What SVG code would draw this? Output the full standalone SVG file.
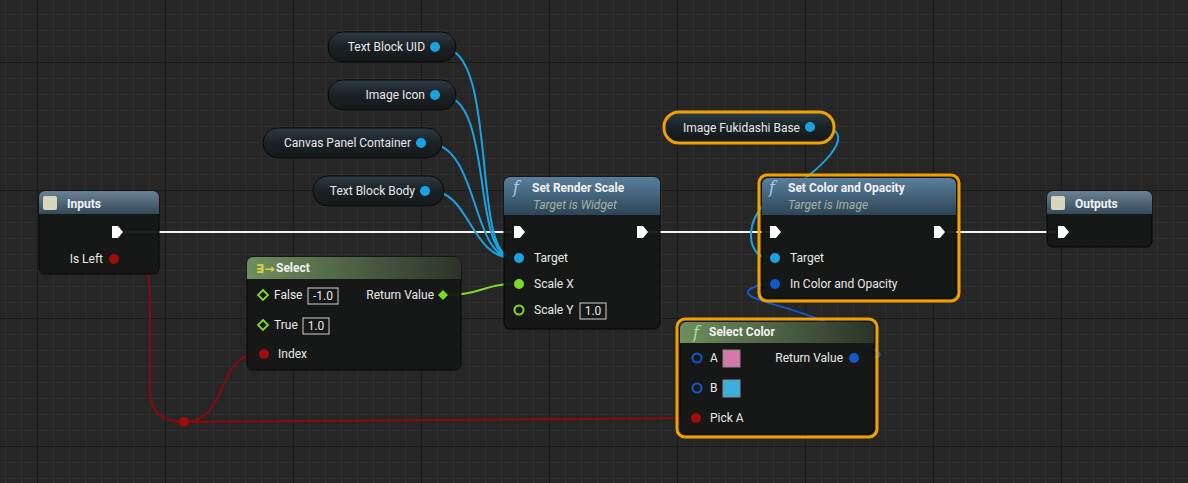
<svg xmlns="http://www.w3.org/2000/svg" width="1188" height="483" viewBox="0 0 1188 483">
<defs>
<pattern id="minor" x="37" y="190" width="16" height="16" patternUnits="userSpaceOnUse"><path d="M0 0H16M0 0V16" stroke="#353535" stroke-width="1" fill="none"/></pattern>
<pattern id="major" x="37" y="190" width="128" height="128" patternUnits="userSpaceOnUse"><path d="M0 0H128M0 0V128" stroke="#141414" stroke-width="1.5" fill="none"/></pattern>
<linearGradient id="hBlue" x1="0" y1="0" x2="0" y2="1"><stop offset="0" stop-color="#5a7f9c"/><stop offset="1" stop-color="#2c4558"/></linearGradient>
<linearGradient id="hGreen" x1="0" y1="0" x2="1" y2="0"><stop offset="0" stop-color="#6f8f5f"/><stop offset="1" stop-color="#2a3328"/></linearGradient>
<linearGradient id="hGray" x1="0" y1="0" x2="0" y2="1"><stop offset="0" stop-color="#6a8294"/><stop offset="1" stop-color="#34495a"/></linearGradient>
<linearGradient id="pill" x1="0" y1="0" x2="0" y2="1"><stop offset="0" stop-color="#2c3b44"/><stop offset="0.5" stop-color="#1a2126"/><stop offset="1" stop-color="#141818"/></linearGradient>
</defs>
<style>
.body{fill:#151716;fill-opacity:0.95;stroke:#060606;stroke-width:1}
.sel{fill:none;stroke:#f0a000;stroke-width:3}
.t{font-family:Roboto,"Liberation Sans",sans-serif;font-size:12px;fill:#e8e8e8}
.h{font-family:Roboto,"Liberation Sans",sans-serif;font-size:12px;font-weight:bold;fill:#f2f2f2}
.sub{font-family:Roboto,"Liberation Sans",sans-serif;font-size:12px;font-style:italic;fill:#a8b0a0}
.f{font-family:"DejaVu Serif",serif;font-style:italic;font-size:16px;fill:#9fd0f0}
.box{fill:none;stroke:#cfcfcf;stroke-width:1}
.exec{fill:#fff}
.wire{fill:none;stroke-width:2}
</style>
<rect width="1188" height="483" fill="#262626"/>
<rect width="1188" height="483" fill="url(#minor)"/>
<rect width="1188" height="483" fill="url(#major)"/>

<g id="connectors">
<path class="wire" stroke="#f4f4f4" stroke-width="3" d="M124 232H512M649 232H769M947 232H1056"/>
<path class="wire" stroke="#1aa3e0" d="M441 47C500 47 470 258 513 258M441 95C495 95 470 258 513 258M427 143C480 143 470 258 513 258M431 191C470 191 470 258 513 258"/>
<path class="wire" stroke="#1aa3e0" d="M817 127C870 127 810 180 785 190C740 210 745 258 769 258"/>
<path class="wire" stroke="#1258c8" d="M861 358C905 358 860 345 840 330C800 305 730 300 752 288C758 285 762 284 769 284"/>
<path class="wire" stroke="#7fd82a" d="M449 295C480 295 485 284 513 284"/>
<path class="wire" stroke="#8a0a0a" d="M120 259C148 259 150 275 150 300L150 390C150 415 165 422 184 422M184 422C230 422 215 354 258 354M184 422L690 418"/>
<circle cx="184" cy="422" r="5" fill="#a00c0c"/>
</g>

<g id="inputs">
<rect x="39" y="191" width="120" height="83" rx="6" class="body"/>
<path d="M45 191H153a6 6 0 0 1 6 6V214H39V197a6 6 0 0 1 6-6z" fill="url(#hGray)"/>
<rect x="43" y="196" width="14" height="14" rx="2" fill="#d8d4c0"/>
<text x="67" y="208" class="h">Inputs</text>
<path d="M112 226h6l5 6-5 6h-6z" class="exec"/>
<text x="103" y="263" class="t" text-anchor="end">Is Left</text>
<circle cx="114" cy="259" r="5" fill="#a00c0c"/>
</g>

<g id="text-block-uid"><rect x="328" y="32" width="128" height="30" rx="15" fill="url(#pill)" stroke="#0a0a0a"/><text x="425" y="51" class="t" text-anchor="end">Text Block UID</text><circle cx="435" cy="47" r="5" fill="#1aa3e0"/></g>
<g id="image-icon"><rect x="328" y="80" width="128" height="30" rx="15" fill="url(#pill)" stroke="#0a0a0a"/><text x="425" y="99" class="t" text-anchor="end">Image Icon</text><circle cx="435" cy="95" r="5" fill="#1aa3e0"/></g>
<g id="canvas-panel-container"><rect x="263" y="128" width="179" height="30" rx="15" fill="url(#pill)" stroke="#0a0a0a"/><text x="411" y="147" class="t" text-anchor="end">Canvas Panel Container</text><circle cx="421" cy="143" r="5" fill="#1aa3e0"/></g>
<g id="text-block-body"><rect x="313" y="176" width="131" height="30" rx="15" fill="url(#pill)" stroke="#0a0a0a"/><text x="415" y="195" class="t" text-anchor="end">Text Block Body</text><circle cx="425" cy="191" r="5" fill="#1aa3e0"/></g>
<g id="image-fukidashi-base"><rect x="664" y="112" width="170" height="31" rx="15" fill="url(#pill)" stroke="#f0a000" stroke-width="3"/><text x="800" y="132" class="t" text-anchor="end">Image Fukidashi Base</text><circle cx="810" cy="127" r="5" fill="#1aa3e0"/></g>

<g id="set-render-scale">
<rect x="504" y="177" width="156" height="152" rx="6" class="body"/>
<path d="M510 177H654a6 6 0 0 1 6 6V215H504V183a6 6 0 0 1 6-6z" fill="url(#hBlue)"/>
<text x="513" y="193" class="f">f</text>
<text x="532" y="192" class="h">Set Render Scale</text>
<text x="533" y="209" class="sub">Target is Widget</text>
<path d="M514 226h6l5 6-5 6h-6z" class="exec"/>
<path d="M637 226h6l5 6-5 6h-6z" class="exec"/>
<circle cx="519" cy="258" r="5" fill="#1aa3e0"/><text x="534" y="262" class="t">Target</text>
<circle cx="519" cy="284" r="5" fill="#7fd82a"/><text x="534" y="288" class="t">Scale X</text>
<circle cx="519" cy="310" r="4.5" fill="none" stroke="#7fd82a" stroke-width="2"/><text x="534" y="314" class="t">Scale Y</text>
<rect x="580" y="303" width="26" height="16" class="box"/><text x="593" y="315" class="t" text-anchor="middle">1.0</text>
</g>

<g id="set-color-and-opacity">
<rect x="762" y="178" width="194" height="120" rx="6" class="body"/>
<path d="M768 178H950a6 6 0 0 1 6 6V215H762V184a6 6 0 0 1 6-6z" fill="url(#hBlue)"/>
<rect x="759" y="175" width="200" height="126" rx="8" class="sel"/>
<text x="769" y="193" class="f">f</text>
<text x="788" y="192" class="h">Set Color and Opacity</text>
<text x="788" y="209" class="sub">Target is Image</text>
<path d="M770 226h6l5 6-5 6h-6z" class="exec"/>
<path d="M934 226h6l5 6-5 6h-6z" class="exec"/>
<circle cx="775" cy="258" r="5" fill="#1aa3e0"/><text x="790" y="262" class="t">Target</text>
<circle cx="775" cy="284" r="5" fill="#1258c8"/><text x="790" y="288" class="t">In Color and Opacity</text>
</g>

<g id="outputs">
<rect x="1047" y="191" width="105" height="56" rx="6" class="body"/>
<path d="M1053 191H1146a6 6 0 0 1 6 6V214H1047V197a6 6 0 0 1 6-6z" fill="url(#hGray)"/>
<rect x="1051" y="196" width="14" height="14" rx="2" fill="#d8d4c0"/>
<text x="1075" y="208" class="h">Outputs</text>
<path d="M1058 226h6l5 6-5 6h-6z" class="exec"/>
</g>

<g id="select">
<rect x="247" y="257" width="214" height="113" rx="6" class="body"/>
<path d="M253 257H455a6 6 0 0 1 6 6V279H247V263a6 6 0 0 1 6-6z" fill="url(#hGreen)"/>
<text x="256" y="273" font-family="DejaVu Sans,sans-serif" font-size="12" font-weight="bold" fill="#e0d040">∃→</text>
<text x="276" y="272" class="h">Select</text>
<path d="M263 290l5 5-5 5-5-5z" fill="none" stroke="#7fd82a" stroke-width="1.8"/><text x="274" y="299" class="t">False</text>
<rect x="308" y="288" width="30" height="16" class="box"/><text x="323" y="300" class="t" text-anchor="middle">-1.0</text>
<path d="M263 320l5 5-5 5-5-5z" fill="none" stroke="#7fd82a" stroke-width="1.8"/><text x="274" y="329" class="t">True</text>
<rect x="303" y="318" width="26" height="16" class="box"/><text x="316" y="330" class="t" text-anchor="middle">1.0</text>
<circle cx="264" cy="354" r="5" fill="#a00c0c"/><text x="278" y="358" class="t">Index</text>
<text x="434" y="299" class="t" text-anchor="end">Return Value</text>
<path d="M443 290l5 5-5 5-5-5z" fill="#7fd82a"/>
</g>

<g id="select-color">
<rect x="680" y="322" width="194" height="112" rx="6" class="body"/>
<path d="M686 322H868a6 6 0 0 1 6 6V343H680V328a6 6 0 0 1 6-6z" fill="url(#hGreen)"/>
<rect x="677" y="319" width="200" height="118" rx="8" class="sel"/>
<text x="693" y="338" class="f" style="fill:#a8e090">f</text>
<text x="709" y="336" class="h">Select Color</text>
<circle cx="697" cy="358" r="4.5" fill="none" stroke="#1258c8" stroke-width="2"/><text x="710" y="362" class="t">A</text>
<rect x="723" y="350" width="17" height="17" fill="#d479a8" stroke="#888"/>
<circle cx="697" cy="388" r="4.5" fill="none" stroke="#1258c8" stroke-width="2"/><text x="710" y="392" class="t">B</text>
<rect x="723" y="380" width="17" height="17" fill="#3aaee0" stroke="#888"/>
<circle cx="696" cy="418" r="5" fill="#a00c0c"/><text x="710" y="422" class="t">Pick A</text>
<text x="843" y="362" class="t" text-anchor="end">Return Value</text>
<circle cx="854" cy="358" r="5" fill="#1258c8"/>
</g>
</svg>
